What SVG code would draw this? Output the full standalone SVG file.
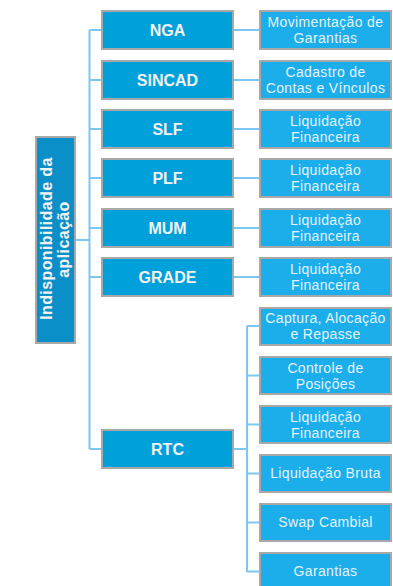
<svg xmlns="http://www.w3.org/2000/svg" width="393" height="586" viewBox="0 0 393 586">
<style>
.l1{fill:#00A0DB;stroke:#A8A8A8;stroke-width:2}
.l2{fill:#1BAEEB;stroke:#A8A8A8;stroke-width:2}
.root{fill:#0B8FC8;stroke:#A8A8A8;stroke-width:2}
.t1{font-family:"Liberation Sans",Arial,sans-serif;font-weight:bold;font-size:16px;fill:#F2F2F2;text-anchor:middle}
.t2{font-family:"Liberation Sans",Arial,sans-serif;font-size:14px;letter-spacing:0.35px;fill:#E4F3FC;text-anchor:middle}
.tr{font-family:"Liberation Sans",Arial,sans-serif;font-weight:bold;font-size:16px;letter-spacing:0.4px;fill:#F2F2F2;text-anchor:middle}
.c{stroke:#7EC6F2;stroke-width:2;fill:none}
</style>
<rect width="393" height="586" fill="#FFFFFF"/>
<g id="connectors">
<path class="c" d="M76 240H89.5M89.5 30V449M89.5 30H102M89.5 80H102M89.5 129H102M89.5 178H102M89.5 228H102M89.5 277H102M89.5 449H102"/>
<path class="c" d="M234 30H260M234 80H260M234 129H260M234 178H260M234 228H260M234 277H260"/>
<path class="c" d="M234 449H247M247 326V572M247 326H260M247 375.5H260M247 424.5H260M247 473.5H260M247 522.5H260M247 571.5H260"/>
</g>
<g id="root">
<rect class="root" x="36" y="137" width="39" height="206"/>
<g transform="translate(55.5,239.5) rotate(-90)">
<text class="tr" x="1" y="-3.5">Indisponibilidade  da</text>
<text class="tr" x="0" y="13.5">aplicação</text>
</g>
</g>
<g id="nga"><rect class="l1" x="102" y="11" width="131" height="38"/><text class="t1" x="167.5" y="35.5">NGA</text></g>
<g id="sincad"><rect class="l1" x="102" y="61" width="131" height="38"/><text class="t1" x="167.5" y="85.5">SINCAD</text></g>
<g id="slf"><rect class="l1" x="102" y="110" width="131" height="38"/><text class="t1" x="167.5" y="134.5">SLF</text></g>
<g id="plf"><rect class="l1" x="102" y="159" width="131" height="38"/><text class="t1" x="167.5" y="183.5">PLF</text></g>
<g id="mum"><rect class="l1" x="102" y="209" width="131" height="38"/><text class="t1" x="167.5" y="233.5">MUM</text></g>
<g id="grade"><rect class="l1" x="102" y="258" width="131" height="38"/><text class="t1" x="167.5" y="282.5">GRADE</text></g>
<g id="rtc"><rect class="l1" x="102" y="430" width="131" height="38"/><text class="t1" x="167.5" y="454.5">RTC</text></g>
<g id="nga-mov"><rect class="l2" x="260" y="11" width="131" height="38"/><text class="t2" x="325.5" y="27">Movimentação de</text><text class="t2" x="325.5" y="43">Garantias</text></g>
<g id="sincad-cad"><rect class="l2" x="260" y="61" width="131" height="38"/><text class="t2" x="325.5" y="77">Cadastro de</text><text class="t2" x="325.5" y="93">Contas e Vínculos</text></g>
<g id="slf-liq"><rect class="l2" x="260" y="110" width="131" height="38"/><text class="t2" x="325.5" y="126">Liquidação</text><text class="t2" x="325.5" y="142">Financeira</text></g>
<g id="plf-liq"><rect class="l2" x="260" y="159" width="131" height="38"/><text class="t2" x="325.5" y="175">Liquidação</text><text class="t2" x="325.5" y="191">Financeira</text></g>
<g id="mum-liq"><rect class="l2" x="260" y="209" width="131" height="38"/><text class="t2" x="325.5" y="225">Liquidação</text><text class="t2" x="325.5" y="241">Financeira</text></g>
<g id="grade-liq"><rect class="l2" x="260" y="258" width="131" height="38"/><text class="t2" x="325.5" y="274">Liquidação</text><text class="t2" x="325.5" y="290">Financeira</text></g>
<g id="rtc-cap"><rect class="l2" x="260" y="308" width="131" height="37"/><text class="t2" x="325.5" y="323">Captura, Alocação</text><text class="t2" x="325.5" y="339">e Repasse</text></g>
<g id="rtc-ctrl"><rect class="l2" x="260" y="357" width="131" height="37"/><text class="t2" x="325.5" y="373">Controle de</text><text class="t2" x="325.5" y="389">Posições</text></g>
<g id="rtc-liq"><rect class="l2" x="260" y="406" width="131" height="37"/><text class="t2" x="325.5" y="422">Liquidação</text><text class="t2" x="325.5" y="438">Financeira</text></g>
<g id="rtc-bruta"><rect class="l2" x="260" y="455" width="131" height="37"/><text class="t2" x="325.5" y="478">Liquidação Bruta</text></g>
<g id="rtc-swap"><rect class="l2" x="260" y="504" width="131" height="37"/><text class="t2" x="325.5" y="527">Swap Cambial</text></g>
<g id="rtc-gar"><rect class="l2" x="260" y="553" width="131" height="37"/><text class="t2" x="325.5" y="576">Garantias</text></g>
</svg>
